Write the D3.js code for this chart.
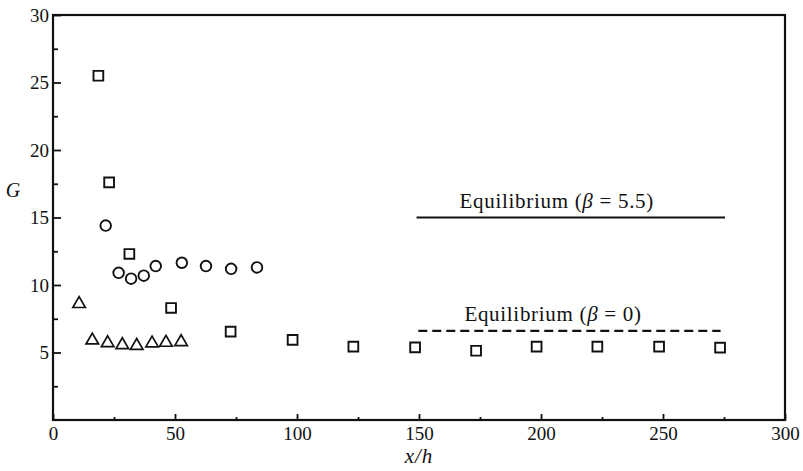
<!DOCTYPE html>
<html>
<head>
<meta charset="utf-8">
<script src="https://cdn.jsdelivr.net/npm/d3@7"></script>
<style>
  body { margin: 0; background: #fff; }
  svg text { font-family: "Liberation Serif", "DejaVu Serif", serif; fill: #111; }
</style>
</head>
<body>
<div id="chart"></div>
<script>
// G against x/h: squares, circles, triangles, plus two equilibrium levels
const squareX = [18.6, 23.0, 31.3, 48.4, 72.8, 98.2, 123.1, 148.4, 173.4, 198.2, 223.1, 248.4, 273.4];
const squareG = [25.5, 17.6, 12.3, 8.3, 6.55, 5.93, 5.43, 5.38, 5.13, 5.43, 5.43, 5.43, 5.36];

const circleX = [21.6, 26.9, 32.0, 37.2, 42.1, 52.8, 62.7, 73.0, 83.6];
const circleG = [14.4, 10.9, 10.47, 10.69, 11.4, 11.65, 11.4, 11.2, 11.3];

const triangleX = [10.7, 16.1, 22.4, 28.4, 34.3, 40.6, 46.3, 52.5];
const triangleG = [8.6, 5.9, 5.7, 5.56, 5.5, 5.68, 5.73, 5.78];

const eqHighX = [149, 275.4];
const eqHighG = 15.0;
const eqLowX = [149.7, 273.6];
const eqLowG = 6.6;

const xTicks = [0, 50, 100, 150, 200, 250, 300];
const xMinor = [25, 75, 125, 175, 225, 275];
const yTicks = [5, 10, 15, 20, 25, 30];
const yMinor = [2.5, 7.5, 12.5, 17.5, 22.5, 27.5];

const w = 803;
const h = 471;

const svg = d3.select('#chart')
    .append('svg')
    .attr('width', w)
    .attr('height', h);

const xScale = d3.scaleLinear().domain([0, 300]).range([53, 785]);
const yScale = d3.scaleLinear().domain([0, 30]).range([420, 15]);

// ticks point into the plot
const xAxis = d3.axisBottom(xScale).tickValues(xTicks).tickSize(-6).tickPadding(7);
const xAxisMinor = d3.axisBottom(xScale).tickValues(xMinor).tickSize(-3).tickFormat('');
const yAxis = d3.axisLeft(yScale).tickValues(yTicks).tickSize(-8).tickPadding(4);
const yAxisMinor = d3.axisLeft(yScale).tickValues(yMinor).tickSize(-5).tickFormat('');

const styleAxis = g => {
    g.select('.domain').remove();
    g.selectAll('line').attr('stroke', '#111').attr('stroke-width', 1.8);
    g.selectAll('text').attr('font-size', 19).attr('fill', '#111')
        .style('font-family', '"Liberation Serif", serif');
};

svg.append('g').attr('transform', 'translate(0,' + yScale(0) + ')').call(xAxis).call(styleAxis);
svg.append('g').attr('transform', 'translate(0,' + yScale(0) + ')').call(xAxisMinor).call(styleAxis);
svg.append('g').attr('transform', 'translate(' + xScale(0) + ',0)').call(yAxis).call(styleAxis);
svg.append('g').attr('transform', 'translate(' + xScale(0) + ',0)').call(yAxisMinor).call(styleAxis);

// frame
svg.append('rect')
    .attr('x', xScale(0))
    .attr('y', yScale(30))
    .attr('width', xScale(300) - xScale(0))
    .attr('height', yScale(0) - yScale(30))
    .attr('fill', 'none')
    .attr('stroke', '#111')
    .attr('stroke-width', 2.2);

// equilibrium lines
svg.append('line')
    .attr('x1', xScale(eqHighX[0])).attr('x2', xScale(eqHighX[1]))
    .attr('y1', yScale(eqHighG)).attr('y2', yScale(eqHighG))
    .attr('stroke', '#111').attr('stroke-width', 2.2);

svg.append('line')
    .attr('x1', xScale(eqLowX[0])).attr('x2', xScale(eqLowX[1]))
    .attr('y1', yScale(eqLowG)).attr('y2', yScale(eqLowG))
    .attr('stroke', '#111').attr('stroke-width', 2.2)
    .attr('stroke-dasharray', '9,5');

const eqLabel = (xv, yv, beta) => {
    const t = svg.append('text')
        .attr('x', xScale(xv))
        .attr('y', yScale(yv))
        .attr('font-size', 21)
        .attr('letter-spacing', 0.7);
    t.append('tspan').text('Equilibrium (');
    t.append('tspan').attr('font-style', 'italic').text('β');
    t.append('tspan').text(' = ' + beta + ')');
};
eqLabel(166.6, eqHighG + 0.68, '5.5');
eqLabel(168.6, eqLowG + 0.73, '0');

// markers
const pts = (xs, ys) => xs.map((v, i) => [v, ys[i]]);

svg.selectAll('.sq')
    .data(pts(squareX, squareG))
    .enter()
    .append('path')
    .attr('class', 'sq')
    .attr('d', d3.symbol().type(d3.symbolSquare).size(95))
    .attr('transform', d => 'translate(' + xScale(d[0]) + ',' + yScale(d[1]) + ')')
    .attr('fill', 'none')
    .attr('stroke', '#111')
    .attr('stroke-width', 1.9);

svg.selectAll('.ci')
    .data(pts(circleX, circleG))
    .enter()
    .append('circle')
    .attr('class', 'ci')
    .attr('cx', d => xScale(d[0]))
    .attr('cy', d => yScale(d[1]))
    .attr('r', 5.3)
    .attr('fill', 'none')
    .attr('stroke', '#111')
    .attr('stroke-width', 1.9);

svg.selectAll('.tr')
    .data(pts(triangleX, triangleG))
    .enter()
    .append('path')
    .attr('class', 'tr')
    .attr('d', d3.symbol().type(d3.symbolTriangle).size(68))
    .attr('transform', d => 'translate(' + xScale(d[0]) + ',' + yScale(d[1]) + ')')
    .attr('fill', 'none')
    .attr('stroke', '#111')
    .attr('stroke-width', 1.7);

// axis titles
svg.append('text')
    .attr('x', xScale(150))
    .attr('y', 463)
    .attr('text-anchor', 'middle')
    .attr('font-size', 21)
    .attr('font-style', 'italic')
    .attr('letter-spacing', 1)
    .text('x/h');

svg.append('text')
    .attr('x', 13)
    .attr('y', 197)
    .attr('text-anchor', 'middle')
    .attr('font-size', 20)
    .attr('font-style', 'italic')
    .text('G');
</script>
</body>
</html>
